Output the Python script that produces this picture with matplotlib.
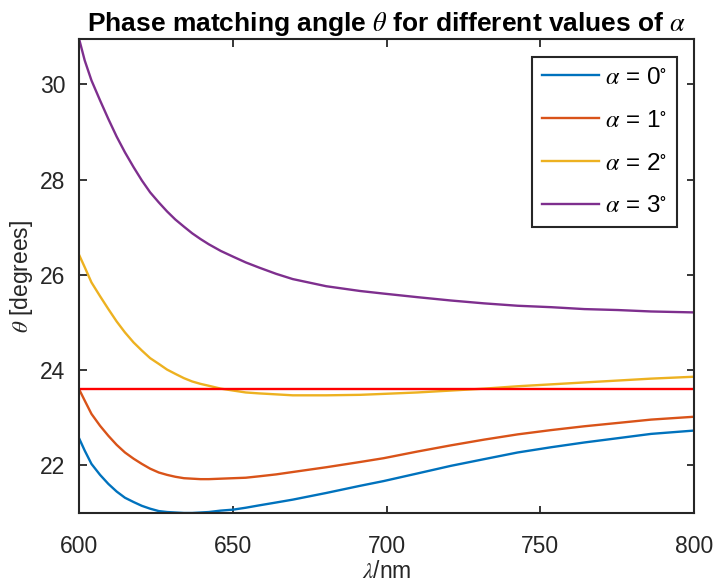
import numpy as np
import matplotlib
matplotlib.use('Agg')
import matplotlib.pyplot as plt

plt.rcParams['font.family'] = ['Liberation Sans', 'DejaVu Sans']
plt.rcParams['mathtext.fontset'] = 'stix'

# ── Data ──────────────────────────────────────────────────────────────────────
wavelength = [600.0, 601.7, 603.9, 606.7, 609.4, 612.1, 614.8, 617.6, 620.3, 623.0,
              625.8, 628.5, 631.2, 634.0, 636.7, 639.4, 642.1, 646.0, 650.0, 654.1,
              658.5, 664.0, 669.4, 680.3, 691.3, 699.0, 710.0, 720.9, 731.7, 742.6,
              753.5, 764.3, 775.2, 786.0, 800.0]

theta_a0 = [22.55, 22.31, 22.03, 21.80, 21.61, 21.45, 21.32, 21.23, 21.15, 21.09,
            21.04, 21.02, 21.01, 21.00, 21.00, 21.01, 21.02, 21.05, 21.07, 21.11,
            21.16, 21.22, 21.28, 21.42, 21.57, 21.67, 21.83, 21.99, 22.13, 22.27,
            22.38, 22.48, 22.57, 22.66, 22.73]
theta_a1 = [23.58, 23.36, 23.08, 22.83, 22.62, 22.43, 22.27, 22.14, 22.03, 21.93,
            21.85, 21.80, 21.76, 21.73, 21.72, 21.71, 21.71, 21.72, 21.73, 21.74,
            21.77, 21.81, 21.86, 21.96, 22.07, 22.15, 22.29, 22.42, 22.54, 22.65,
            22.74, 22.82, 22.89, 22.96, 23.02]
theta_a2 = [26.40, 26.16, 25.84, 25.55, 25.28, 25.02, 24.79, 24.58, 24.41, 24.25,
            24.13, 24.01, 23.92, 23.83, 23.76, 23.71, 23.67, 23.61, 23.57, 23.53,
            23.51, 23.49, 23.47, 23.47, 23.48, 23.50, 23.53, 23.57, 23.61, 23.66,
            23.70, 23.74, 23.78, 23.82, 23.86]
theta_a3 = [30.92, 30.50, 30.08, 29.66, 29.27, 28.90, 28.57, 28.26, 27.98, 27.73,
            27.52, 27.33, 27.16, 27.01, 26.87, 26.75, 26.64, 26.50, 26.38, 26.26,
            26.15, 26.02, 25.91, 25.76, 25.66, 25.605, 25.53, 25.46, 25.40, 25.35,
            25.32, 25.28, 25.26, 25.23, 25.21]

theta_ref = 23.6          # horizontal reference line
alphas = [0, 1, 2, 3]
series = [theta_a0, theta_a1, theta_a2, theta_a3]
colors = ['#0072BD', '#D95319', '#EDB120', '#7E2F8E']

# ── Figure ───────────────────────────────────────────────────────────────────
fig = plt.figure(figsize=(7.18, 5.87), dpi=100)
ax = fig.add_axes([0.1107, 0.1261, 0.8559, 0.8075])

for a, th, c in zip(alphas, series, colors):
    ax.plot(wavelength, th, color=c, lw=1.7, solid_joinstyle='round',
            label=r'$\alpha$ = %d$^{\circ}$' % a)
ax.plot([wavelength[0], wavelength[-1]], [theta_ref, theta_ref], color='#FF0000', lw=1.7)

ax.set_xlim(600, 800)
ax.set_ylim(21.0, 30.95)
ax.set_xticks([600, 650, 700, 750, 800])
ax.set_yticks([22, 24, 26, 28, 30])

ax.tick_params(direction='in', length=5.4, width=1.3, top=True, right=True,
               labelsize=16.5, colors='#262626', pad=10)
ax.tick_params(axis='x', pad=16)
for s in ax.spines.values():
    s.set_linewidth(1.5)
    s.set_color('#262626')

ax.set_xlabel(r'$\lambda$/nm', fontsize=16.5, color='#262626', labelpad=1)
ax.set_ylabel(r'$\theta$ [degrees]', fontsize=16.5, color='#262626', labelpad=4)
ax.set_title(r'Phase matching angle $\theta$ for different values of $\alpha$',
             fontsize=19, fontweight='bold', pad=6)

leg = ax.legend(loc='upper right', bbox_to_anchor=(0.972, 0.962), fontsize=17.5,
                fancybox=False, framealpha=1, edgecolor='#262626',
                handlelength=2.35, handletextpad=0.25, labelspacing=0.86,
                borderpad=0.4, borderaxespad=0)
leg.get_frame().set_linewidth(1.5)

fig.savefig('out.png', dpi=100)
